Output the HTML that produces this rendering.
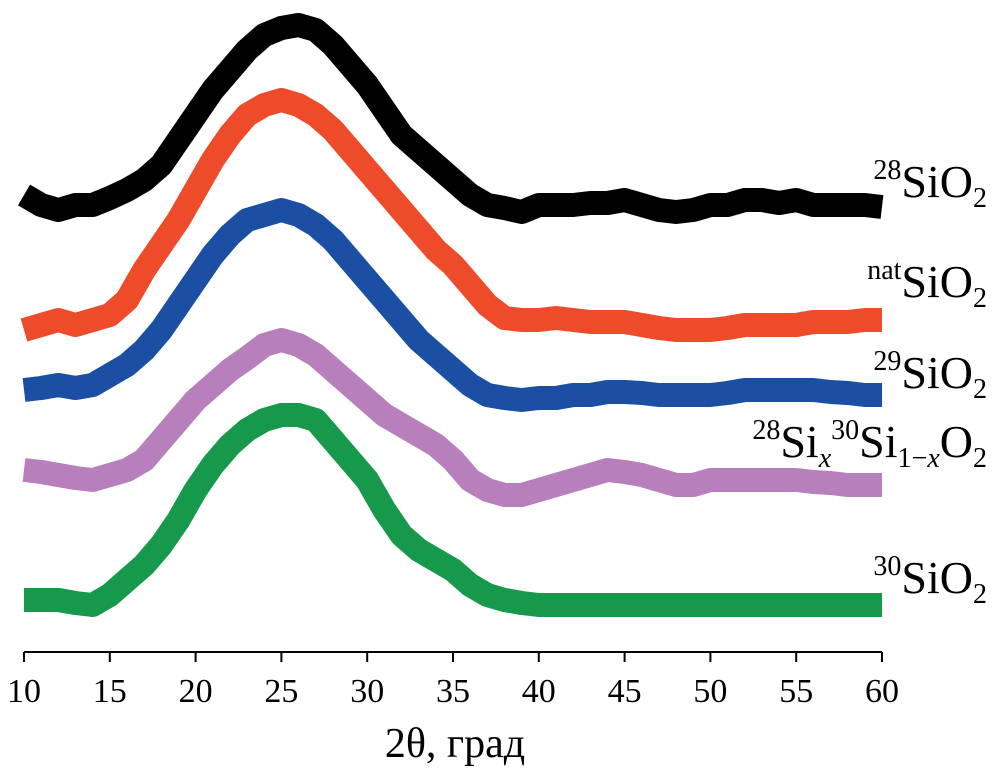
<!DOCTYPE html>
<html><head><meta charset="utf-8"><style>
body{margin:0;background:#fff}
svg{display:block}
text{font-family:"Liberation Serif",serif;fill:#000}
</style></head><body>
<svg id="chart" width="1004" height="770" viewBox="0 0 1004 770" xmlns="http://www.w3.org/2000/svg">
<g id="series"></g>
<g id="axis"></g>
<text x="455" y="757" font-size="42" text-anchor="middle">2θ, град</text>
<text x="987" y="197" font-size="46" text-anchor="end"><tspan font-size="28" dy="-18">28</tspan><tspan dy="18">SiO</tspan><tspan font-size="28" dy="10">2</tspan></text>
<text x="987" y="297" font-size="46" text-anchor="end"><tspan font-size="28" dy="-18">nat</tspan><tspan dy="18">SiO</tspan><tspan font-size="28" dy="10">2</tspan></text>
<text x="987" y="388" font-size="46" text-anchor="end"><tspan font-size="28" dy="-18">29</tspan><tspan dy="18">SiO</tspan><tspan font-size="28" dy="10">2</tspan></text>
<text x="987" y="457" font-size="46" text-anchor="end"><tspan font-size="28" dy="-18">28</tspan><tspan dy="18">Si</tspan><tspan font-size="28" font-style="italic" dy="10">x</tspan><tspan font-size="28" dy="-28">30</tspan><tspan dy="18">Si</tspan><tspan font-size="28" dy="10">1−</tspan><tspan font-size="28" font-style="italic">x</tspan><tspan dy="-10">O</tspan><tspan font-size="28" dy="10">2</tspan></text>
<text x="987" y="593" font-size="46" text-anchor="end"><tspan font-size="28" dy="-18">30</tspan><tspan dy="18">SiO</tspan><tspan font-size="28" dy="10">2</tspan></text>
</svg>
<script>
const angles = [];
for (let a = 10; a <= 60; a++) angles.push(a);
const si28 = [505,495,490,495,495,502,510,520,535,560,585,610,630,650,665,672,675,670,655,635,615,590,565,550,535,520,505,495,492,488,495,495,495,497,497,500,495,490,488,490,495,495,500,500,497,500,495,495,495,495,493];
const siNat = [370,375,380,375,380,385,400,430,455,480,510,540,565,585,595,600,595,585,570,550,530,510,490,470,450,435,415,395,382,380,380,382,380,378,378,378,375,372,370,370,370,372,375,375,375,375,378,378,378,380,380];
const si29 = [310,312,315,312,315,325,335,350,370,395,420,445,465,480,485,490,485,475,460,440,420,400,380,360,345,330,315,305,302,300,302,302,305,305,308,308,307,305,305,305,305,307,310,310,310,310,310,308,307,305,305];
const siMix = [230,228,225,222,220,225,230,240,260,280,300,315,330,342,355,360,355,345,330,315,300,285,275,265,255,240,220,210,205,205,210,215,220,225,230,228,225,220,215,215,220,220,220,220,220,220,218,217,215,215,215];
const si30 = [100,100,100,97,95,105,120,135,155,180,210,235,255,270,280,285,285,280,260,240,220,190,165,150,140,130,115,105,100,97,95,95,95,95,95,95,95,95,95,95,95,95,95,95,95,95,95,95,95,95,95];
const tickLabels = [10,15,20,25,30,35,40,45,50,55,60];

const NS = "http://www.w3.org/2000/svg";
const xScale = a => 24 + (a - 10) * (882 - 24) / 50;
const yScale = v => 700 - v;

const seriesList = [
  {name:"series-28sio2", vals:si28, color:"#000000"},
  {name:"series-natsio2", vals:siNat, color:"#ee4b2b"},
  {name:"series-29sio2", vals:si29, color:"#1a4fa3"},
  {name:"series-mixed-sio2", vals:siMix, color:"#b77fbb"},
  {name:"series-30sio2", vals:si30, color:"#16994a"}
];
const g = document.getElementById("series");
seriesList.forEach(s => {
  const p = document.createElementNS(NS, "polyline");
  p.setAttribute("points", s.vals.map((v, i) => xScale(angles[i]) + "," + yScale(v)).join(" "));
  p.setAttribute("fill", "none");
  p.setAttribute("stroke", s.color);
  p.setAttribute("stroke-width", "24");
  p.setAttribute("stroke-linejoin", "round");
  
  
  g.appendChild(p);
});

const ax = document.getElementById("axis");
const line = document.createElementNS(NS, "line");
line.setAttribute("x1", xScale(10)); line.setAttribute("x2", xScale(60));
line.setAttribute("y1", 652); line.setAttribute("y2", 652);
line.setAttribute("stroke", "#000"); line.setAttribute("stroke-width", "2");


ax.appendChild(line);
tickLabels.forEach(t => {
  const tk = document.createElementNS(NS, "line");
  tk.setAttribute("x1", xScale(t)); tk.setAttribute("x2", xScale(t));
  tk.setAttribute("y1", 652); tk.setAttribute("y2", 662);
  tk.setAttribute("stroke", "#000"); tk.setAttribute("stroke-width", "2");
  
  
  ax.appendChild(tk);
  const tx = document.createElementNS(NS, "text");
  tx.setAttribute("x", xScale(t)); tx.setAttribute("y", 702);
  tx.setAttribute("font-size", "34"); tx.setAttribute("text-anchor", "middle");
  tx.textContent = t;
  
  
  ax.appendChild(tx);
});
</script>
</body></html>
